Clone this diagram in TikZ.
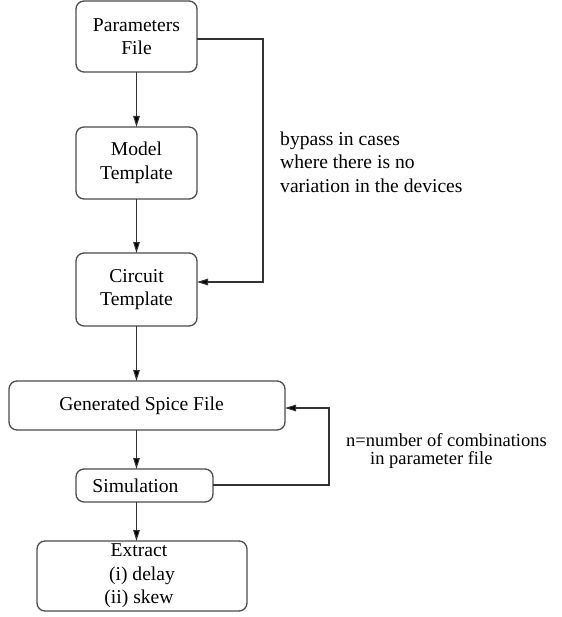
\documentclass[tikz,border=0pt]{standalone}
\usepackage{fontspec}
\setmainfont{Liberation Serif}
\usetikzlibrary{arrows.meta}
\begin{document}
\begin{tikzpicture}[x=1pt,y=-1pt,
  font=\fontsize{19.6}{23.5}\selectfont,
  box/.style={draw=black!70, line width=1.3pt, rounded corners=8pt,
    rectangle, inner sep=0pt, outer sep=0pt, align=center},
  arr/.style={draw=black!80, line width=1.1pt,
    -{Triangle[length=11pt,width=6.5pt,fill=black]}},
  note/.style={anchor=west, align=left, inner sep=0pt}]
\useasboundingbox (0,0) rectangle (561,617);

% process boxes
\node[box, minimum width=121pt, minimum height=71pt] (param)   at (136.5,36.5) {Parameters\\File};
\node[box, minimum width=121pt, minimum height=72pt] (model)   at (136.5,163)  {Model\\Template};
\node[box, minimum width=121pt, minimum height=73pt] (circuit) at (136.5,289.5){Circuit\\Template};
\node[box, minimum width=276pt, minimum height=49pt] (spice)   at (147,405.5)  {Generated Spice File\hspace*{11pt}};
\node[box, minimum width=137pt, minimum height=33pt] (sim)     at (144.5,485.5){Simulation\hspace*{18pt}};
\node[box, minimum width=210pt, minimum height=70pt] (extract) at (142,576)    {Extract\hspace*{6pt}\\(i) delay\hspace*{6pt}\\(ii) skew\hspace*{6pt}};

% main flow
\draw[arr] (param.south) -- (model.north);
\draw[arr] (model.south) -- (circuit.north);
\draw[arr] (circuit.south) -- (circuit.south |- spice.north);
\draw[arr] (circuit.south |- spice.south) -- (circuit.south |- sim.north);
\draw[arr] (circuit.south |- sim.south) -- (circuit.south |- extract.north);

% bypass route
\coordinate (bypassTop) at (263,39);
\coordinate (bypassBot) at (263,282);
\draw[arr] (param.east |- bypassTop) -- (bypassTop) -- (bypassBot) -- (circuit.east |- bypassBot);
\node[note] (bypassText) at (280,162) {bypass in cases\\where there is no\\variation in the devices};

% simulation loop
\coordinate (loopBot) at (329,485);
\coordinate (loopTop) at (329,408);
\draw[arr] (sim.east |- loopBot) -- (loopBot) -- (loopTop) -- (spice.east |- loopTop);
\node[note, font=\fontsize{18.5}{18.5}\selectfont] (loopText) at (346,451)
  {n=number of combinations\\\hspace*{24pt}in parameter file};
\end{tikzpicture}
\end{document}
